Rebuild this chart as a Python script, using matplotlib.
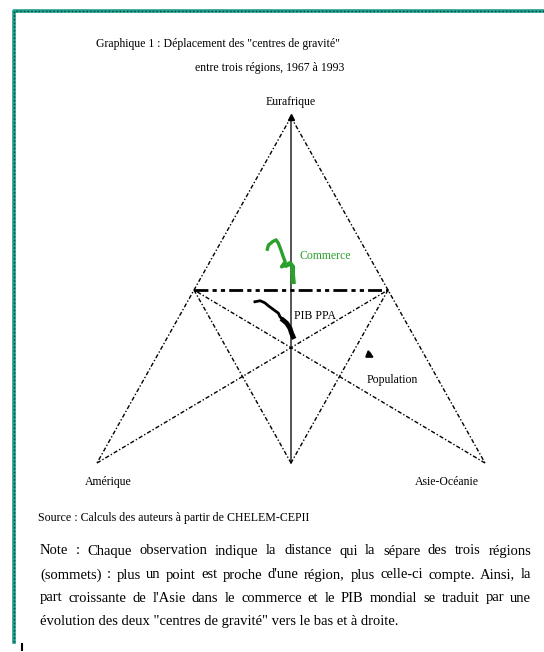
import matplotlib.pyplot as plt
from matplotlib.lines import Line2D

# parts (%) dans chaque série : Eurafrique, Amérique, Asie-Océanie (1967 -> 1993)
commerce_eur = [61.8, 63.0, 64.0, 64.5, 63.5, 61.6, 59.6, 58.2, 56.7, 57.2, 57.7, 56.7, 54.8, 52.4]
commerce_ame = [25.2, 24.3, 22.7, 21.6, 21.5, 21.8, 22.2, 22.4, 24.1, 22.5, 21.4, 21.2, 22.2, 23.2]
commerce_asie = [13.0, 12.7, 13.3, 13.9, 15.0, 16.6, 18.2, 19.4, 19.2, 20.3, 20.9, 22.1, 23.0, 24.4]

pib_eur = [46.6, 46.9, 46.3, 45.4, 44.7, 44.0, 43.3, 42.3, 41.3, 40.4, 38.9, 37.5, 36.5]
pib_ame = [36.0, 34.5, 33.6, 33.1, 32.6, 32.1, 31.6, 31.7, 31.4, 30.9, 30.8, 31.1, 31.2]
pib_asie = [17.4, 18.6, 20.1, 21.5, 22.7, 23.9, 25.1, 26.0, 27.3, 28.7, 30.3, 31.4, 32.3]

pop_eur = [30.6, 32.4, 31.8, 30.6, 30.6]
pop_ame = [15.4, 13.9, 13.7, 13.6, 15.4]
pop_asie = [54.0, 53.7, 54.5, 55.8, 54.0]

sommets = ["Eurafrique", "Amérique", "Asie-Océanie"]

title = ['Graphique 1 : Déplacement des "centres de gravité"',
         "entre trois régions, 1967 à 1993"]
source = "Source : Calculs des auteurs à partir de CHELEM-CEPII"
note = [
    "Note : Chaque observation indique la distance qui la sépare des trois régions",
    "(sommets) : plus un point est proche d'une région, plus celle-ci compte. Ainsi, la",
    "part croissante de l'Asie dans le commerce et le PIB mondial se traduit par une",
    'évolution des deux "centres de gravité" vers le bas et à droite.',
]


def tern(eur, ame, asie):
    # Amérique en (0,0), Asie-Océanie en (1,0), Eurafrique en (0.5,1)
    xs, ys = [], []
    for e, a, s in zip(eur, ame, asie):
        tot = e + a + s
        xs.append((s + e / 2) / tot)
        ys.append(e / tot)
    return xs, ys


plt.rcParams["font.family"] = ["Liberation Serif", "DejaVu Serif"]

W, H = 544, 652
fig = plt.figure(figsize=(W / 100, H / 100), dpi=100)


def fx(x, y):
    return x / W, 1 - y / H


ax = fig.add_axes([97 / W, 1 - 463 / H, 388 / W, 346 / H])
ax.set_xlim(0, 1)
ax.set_ylim(0, 1)
ax.axis("off")

T = (0.5, 1.0)
A = (0.0, 0.0)
R = (1.0, 0.0)
L = (0.25, 0.5)
Rm = (0.75, 0.5)
M = (0.5, 0.0)

dash = (0, (3, 1.5, 1, 1.5))


def seg(p, q, **kw):
    ax.plot([p[0], q[0]], [p[1], q[1]], color="black", clip_on=False, **kw)


seg(T, A, lw=1.0, linestyle=dash)
seg(T, R, lw=1.0, linestyle=dash)
seg(A, Rm, lw=1.0, linestyle=dash)
seg(R, L, lw=1.0, linestyle=dash)
seg(L, M, lw=1.0, linestyle=dash)
seg(Rm, M, lw=1.0, linestyle=dash)
seg(T, M, lw=1.1, alpha=0.85)
seg(L, Rm, lw=2.0, linestyle=(0, (5, 1.5, 1.5, 1.5, 1.5, 1.5)))
ax.plot([T[0]], [T[1]], marker="^", color="black", ms=4, clip_on=False)

cx, cy = tern(commerce_eur, commerce_ame, commerce_asie)
ax.plot(cx, cy, color="#2ca02c", lw=2.4, solid_joinstyle="round", clip_on=False)
ax.plot(cx[-5:], cy[-5:], color="#2ca02c", lw=3.4, clip_on=False)

px_, py_ = tern(pib_eur, pib_ame, pib_asie)
ax.plot(px_, py_, color="black", lw=2.0, clip_on=False)
ax.plot(px_[-5:], py_[-5:], color="black", lw=3.5, clip_on=False)

qx, qy = tern(pop_eur, pop_ame, pop_asie)
ax.fill(qx, qy, color="black", clip_on=False)

# étiquettes
lab = dict(fontsize=8.5)
fig.text(*fx(291, 102), sommets[0], ha="center", va="center", **lab)
fig.text(*fx(108, 482), sommets[1], ha="center", va="center", **lab)
fig.text(*fx(447, 482), sommets[2], ha="center", va="center", **lab)
fig.text(*fx(300, 256), "Commerce", ha="left", va="center", color="#2ca02c", **lab)
fig.text(*fx(294, 316), "PIB PPA", ha="left", va="center", **lab)
fig.text(*fx(367, 380), "Population", ha="left", va="center", **lab)

fig.text(*fx(218, 44), title[0], ha="center", va="center", fontsize=8.5)
fig.text(*fx(270, 68), title[1], ha="center", va="center", fontsize=8.5)
fig.text(*fx(38, 518), source, ha="left", va="center", fontsize=8.6)

# paragraphe justifié
renderer = fig.canvas.get_renderer()
left, right = 40, 531
ys = [551, 575, 598, 621]
for i, (line, y) in enumerate(zip(note, ys)):
    words = line.split(" ")
    if i == len(note) - 1:
        fig.text(*fx(left, y), line, ha="left", va="center", fontsize=10.5)
        continue
    arts = [fig.text(0, 0, w, fontsize=10.5, ha="left", va="center") for w in words]
    widths = [a.get_window_extent(renderer).width for a in arts]
    gap = (right - left - sum(widths)) / (len(words) - 1)
    x = left
    for a, w in zip(arts, widths):
        a.set_position(fx(x, y))
        x += w + gap

# cadre
for col, lw, ls in [("#1f9e8c", 2.6, "-"), ("#0b3d36", 1.0, ":")]:
    fig.add_artist(Line2D([14 / W, 14 / W, 1], [1 - 642 / H, 1 - 11 / H, 1 - 11 / H],
                          transform=fig.transFigure, color=col, lw=lw, linestyle=ls))
fig.add_artist(Line2D([22 / W, 22 / W], [1 - 644 / H, 1 - 650 / H],
                      transform=fig.transFigure, color="black", lw=1.5))

fig.savefig("out.png", dpi=100)
